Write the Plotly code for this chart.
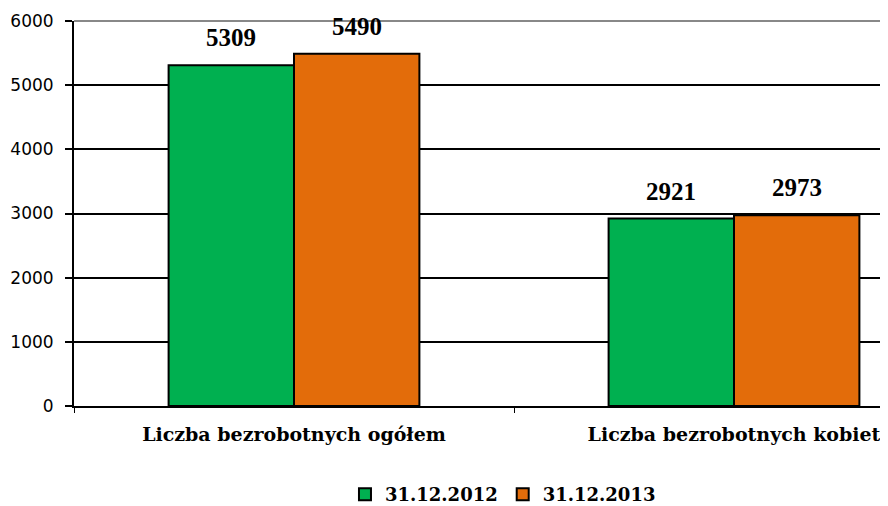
import plotly.graph_objects as go

categories = ["Liczba bezrobotnych ogółem", "Liczba bezrobotnych kobiet"]
series_names = ["31.12.2012", "31.12.2013"]
values_2012 = [5309, 2921]
values_2013 = [5490, 2973]
colors = ["#00B050", "#E36C0A"]
y_ticks = [0, 1000, 2000, 3000, 4000, 5000, 6000]

num_font = "Liberation Serif, Times New Roman, serif"
lab_font = "DejaVu Serif, serif"

bargap = 0.43
bar_w = (1 - bargap) / 2

fig = go.Figure()
for name, vals, col in zip(series_names, [values_2012, values_2013], colors):
    fig.add_trace(go.Bar(
        x=categories, y=vals, name=name,
        marker=dict(color=col, line=dict(color="black", width=2)),
    ))

# data labels above bars
for si, vals in enumerate([values_2012, values_2013]):
    offset = (si - 0.5) * bar_w
    for ci, v in enumerate(vals):
        fig.add_annotation(
            x=ci + offset, y=v, text="<b>%d</b>" % v, showarrow=False,
            yanchor="bottom", yshift=12,
            font=dict(family=num_font, size=25, color="black"),
        )

# page body has an 8px margin, so the figure is 8px smaller and offset
fig.update_layout(
    width=880, height=498,
    margin=dict(l=66, r=0, t=13, b=100, autoexpand=False),
    paper_bgcolor="white", plot_bgcolor="white",
    barmode="group", bargap=bargap, bargroupgap=0,
    showlegend=True,
    legend=dict(orientation="h", x=0.527, xanchor="center", y=-0.23, yanchor="middle",
                font=dict(family=lab_font, size=18, color="black", weight="bold"),
                itemwidth=30, traceorder="normal"),
    font=dict(family="DejaVu Sans", color="black"),
)
fig.update_xaxes(
    range=[-0.5, 1.35], showline=True, linecolor="black", linewidth=2,
    ticks="outside", tickson="boundaries", ticklen=5, tickcolor="black",
    ticklabelstandoff=10, automargin=False,
    tickfont=dict(family=lab_font, size=19, color="black", weight="bold"),
    showgrid=False,
)
fig.update_yaxes(
    range=[0, 6000], tickvals=y_ticks, showline=True, linecolor="black", linewidth=2,
    ticks="outside", ticklen=7, tickcolor="black", tickwidth=2,
    ticklabelstandoff=8, automargin=False,
    tickfont=dict(family="DejaVu Sans", size=17, color="black"),
    showgrid=True, gridcolor="black", gridwidth=2, zeroline=False,
)
fig.add_shape(type="line", xref="paper", yref="paper", x0=0, x1=1, y0=1, y1=1,
              line=dict(color="#888888", width=2), layer="above")

fig.write_html("out.html")
